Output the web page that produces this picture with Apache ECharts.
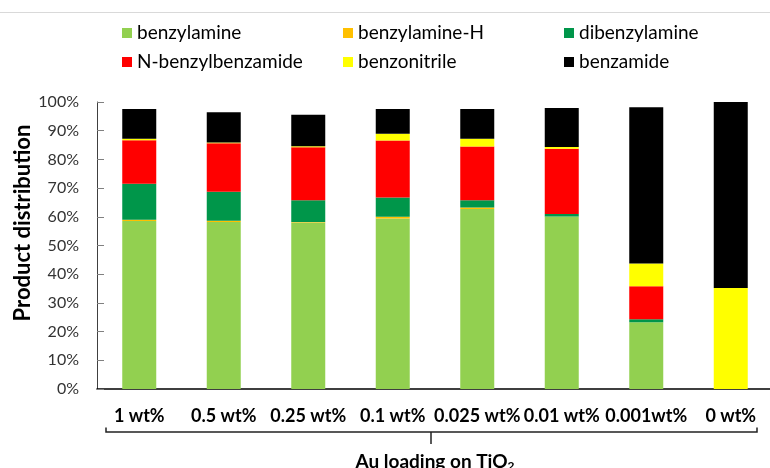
<!DOCTYPE html>
<html>
<head>
<meta charset="utf-8">
<script src="https://cdn.jsdelivr.net/npm/echarts@6/dist/echarts.min.js"></script>
<style>html,body{margin:0;padding:0;background:#fff;}#c{width:770px;height:468px;}</style>
</head>
<body>
<div id="c"></div>
<script>
var categories = ['1 wt%', '0.5 wt%', '0.25 wt%', '0.1 wt%', '0.025 wt%', '0.01 wt%', '0.001wt%', '0 wt%'];
var benzylamine      = [58.5, 58.2, 58.0, 59.4, 62.7, 60.1, 23.3, 0];
var benzylamineH     = [0.5, 0.4, 0.2, 0.6, 0.5, 0, 0, 0];
var dibenzylamine    = [12.5, 10.1, 7.6, 6.7, 2.6, 0.9, 1.0, 0];
var nBenzylbenzamide = [15.2, 16.9, 18.4, 19.9, 18.7, 22.7, 11.5, 0];
var benzonitrile     = [0.5, 0.3, 0.4, 2.3, 2.7, 0.6, 7.9, 35.2];
var benzamide        = [10.4, 10.5, 11.0, 8.7, 10.4, 13.6, 54.5, 64.8];
var yTicks = [0, 10, 20, 30, 40, 50, 60, 70, 80, 90, 100];

var FONT = 'Lato';
var chart = echarts.init(document.getElementById('c'));

function mkSeries(name, data, color) {
  return { name: name, type: 'bar', stack: 'total', data: data, barWidth: 34,
           itemStyle: { color: color }, emphasis: { disabled: true } };
}

function mkLegend(left, names) {
  return {
    left: left, top: 23, padding: 0, orient: 'vertical', itemWidth: 10, itemHeight: 10, itemGap: 9,
    icon: 'rect', data: names, selectedMode: false,
    textStyle: { fontFamily: FONT, fontSize: 19, color: '#000', lineHeight: 20 }
  };
}

chart.setOption({
  animation: false,
  backgroundColor: '#fff',
  legend: [
    mkLegend(122, ['benzylamine', 'N-benzylbenzamide']),
    mkLegend(343, ['benzylamine-H', 'benzonitrile']),
    mkLegend(564, ['dibenzylamine', 'benzamide'])
  ],
  grid: { left: 97, right: -3, top: 102, bottom: 79, containLabel: false, outerBoundsMode: 'none' },
  xAxis: {
    type: 'category', data: categories,
    axisLine: { lineStyle: { color: '#000', width: 1.5 } },
    axisTick: { show: false },
    axisLabel: { fontFamily: FONT, fontSize: 18, fontWeight: 'bold', color: '#000', margin: 18, interval: 0 },
    name: 'Au loading on TiO{sub|2}', nameLocation: 'middle', nameGap: 63,
    nameTextStyle: { fontFamily: FONT, fontSize: 19, fontWeight: 'bold', color: '#000',
      rich: { sub: { fontFamily: FONT, fontSize: 12, fontWeight: 'bold', color: '#000', verticalAlign: 'bottom', padding: [8, 0, 0, 0] } } }
  },
  yAxis: {
    type: 'value', min: 0, max: 100, interval: 10,
    axisLine: { show: true, lineStyle: { color: '#404040', width: 1 } },
    axisTick: { show: true, inside: true, length: 7, lineStyle: { color: '#808080' } },
    splitLine: { show: false },
    axisLabel: { fontFamily: FONT, fontSize: 16, color: '#333', margin: 18,
      formatter: function (v) { return yTicks.indexOf(v) >= 0 ? v + '%' : ''; } }
  },
  graphic: [
    { type: 'line', shape: { x1: 0, y1: 12.5, x2: 770, y2: 12.5 }, style: { stroke: '#d9d9d9', lineWidth: 1 }, silent: true },
    { type: 'text', x: 23, y: 223, rotation: Math.PI / 2,
      style: { text: 'Product distribution', fontFamily: FONT, fontSize: 22, fontWeight: 'bold', fill: '#000',
               align: 'center', verticalAlign: 'middle' } },
    { type: 'polyline', shape: { points: [[106, 427.5], [106, 432], [757, 432], [757, 427.5]] },
      style: { stroke: '#222', lineWidth: 1.5, fill: null }, silent: true },
    { type: 'line', shape: { x1: 431, y1: 432, x2: 431, y2: 444 }, style: { stroke: '#222', lineWidth: 1.5 }, silent: true }
  ],
  series: [
    mkSeries('benzylamine', benzylamine, '#92D050'),
    mkSeries('benzylamine-H', benzylamineH, '#FFC000'),
    mkSeries('dibenzylamine', dibenzylamine, '#00964A'),
    mkSeries('N-benzylbenzamide', nBenzylbenzamide, '#FF0000'),
    mkSeries('benzonitrile', benzonitrile, '#FFFF00'),
    mkSeries('benzamide', benzamide, '#000000')
  ]
});
</script>
</body>
</html>
